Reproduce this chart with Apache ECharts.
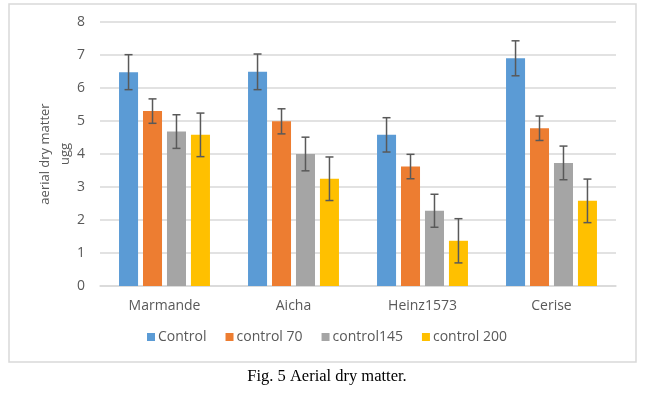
<!DOCTYPE html>
<html>
<head>
<meta charset="utf-8">
<script src="https://cdn.jsdelivr.net/npm/echarts@6/dist/echarts.min.js"></script>
<style>
  html, body { margin: 0; padding: 0; background: #fff; }
  #main { width: 654px; height: 397px; }
</style>
</head>
<body>
<div id="main"></div>
<script>
var categories = ['Marmande', 'Aicha', 'Heinz1573', 'Cerise'];
var seriesNames = ['Control', 'control 70', 'control145', 'control 200'];
var colors = ['#5B9BD5', '#ED7D31', '#A5A5A5', '#FFC000'];

// mean values per series
var control = [6.48, 6.49, 4.58, 6.90];
var control70 = [5.30, 4.99, 3.62, 4.78];
var control145 = [4.68, 4.00, 2.28, 3.73];
var control200 = [4.58, 3.25, 1.37, 2.58];

// error (+/-) per series
var errControl = [0.53, 0.54, 0.52, 0.53];
var errControl70 = [0.37, 0.38, 0.37, 0.37];
var errControl145 = [0.51, 0.51, 0.50, 0.51];
var errControl200 = [0.66, 0.66, 0.67, 0.66];

var yTicks = [0, 1, 2, 3, 4, 5, 6, 7, 8];

var values = [control, control70, control145, control200];
var errors = [errControl, errControl70, errControl145, errControl200];

var catGap = 0.295, barGap = 0.26;
var textColor = '#595959';
var font = 'Open Sans';

var myChart = echarts.init(document.getElementById('main'));

var series = [];
values.forEach(function (vals, i) {
    series.push({
        name: seriesNames[i],
        type: 'bar',
        barGap: (barGap * 100) + '%',
        barCategoryGap: (catGap * 100) + '%',
        itemStyle: { color: colors[i] },
        data: vals
    });
});

values.forEach(function (vals, i) {
    var errData = vals.map(function (v, j) {
        return [j, v - errors[i][j], v + errors[i][j]];
    });
    series.push({
        type: 'custom',
        name: 'err' + i,
        z: 10,
        silent: true,
        renderItem: function (params, api) {
            var catW = api.size([1, 0])[0];
            var n = seriesNames.length;
            var bw = catW * (1 - catGap) / (n + (n - 1) * barGap);
            var offset = (i - (n - 1) / 2) * bw * (1 + barGap);
            var lo = api.coord([api.value(0), api.value(1)]);
            var hi = api.coord([api.value(0), api.value(2)]);
            var x = lo[0] + offset;
            var cap = 4;
            var style = { stroke: '#595959', lineWidth: 1.5 };
            return {
                type: 'group',
                children: [
                    { type: 'line', shape: { x1: x, y1: lo[1], x2: x, y2: hi[1] }, style: style },
                    { type: 'line', shape: { x1: x - cap, y1: lo[1], x2: x + cap, y2: lo[1] }, style: style },
                    { type: 'line', shape: { x1: x - cap, y1: hi[1], x2: x + cap, y2: hi[1] }, style: style }
                ]
            };
        },
        encode: { x: 0, y: [1, 2] },
        data: errData
    });
});

var option = {
    animation: false,
    textStyle: { fontFamily: font },
    grid: { left: 100, right: 38, top: 22, bottom: 111 },
    legend: {
        data: seriesNames,
        bottom: 48,
        left: 'center',
        icon: 'rect',
        itemWidth: 8,
        itemHeight: 8,
        itemGap: 19,
        textStyle: { color: textColor, fontSize: 14, fontFamily: font, padding: [0, 0, 0, -2] }
    },
    xAxis: {
        type: 'category',
        data: categories,
        axisLine: { lineStyle: { color: '#D9D9D9', width: 1.5 } },
        axisTick: { show: false },
        axisLabel: { color: textColor, fontSize: 14, margin: 13 }
    },
    yAxis: {
        type: 'value',
        min: yTicks[0],
        max: yTicks[yTicks.length - 1],
        interval: 1,
        name: 'aerial dry matter\nugg',
        nameLocation: 'middle',
        nameGap: 25,
        nameMoveOverlap: false,
        nameTextStyle: { color: textColor, fontSize: 13, lineHeight: 20 },
        axisLine: { show: false },
        axisTick: { show: false },
        axisLabel: { color: textColor, fontSize: 14, margin: 15 },
        splitLine: { lineStyle: { color: '#D9D9D9', width: 1.5 } }
    },
    graphic: [
        {
            type: 'rect',
            shape: { x: 9, y: 4, width: 627, height: 358 },
            style: { fill: null, stroke: '#D9D9D9', lineWidth: 1.5 },
            silent: true
        },
        {
            type: 'text',
            left: 'center',
            top: 368,
            style: {
                text: 'Fig. 5 Aerial dry matter.',
                font: '16.5px "Liberation Serif"',
                fill: '#000'
            }
        }
    ],
    series: series
};
myChart.setOption(option);
</script>
</body>
</html>
